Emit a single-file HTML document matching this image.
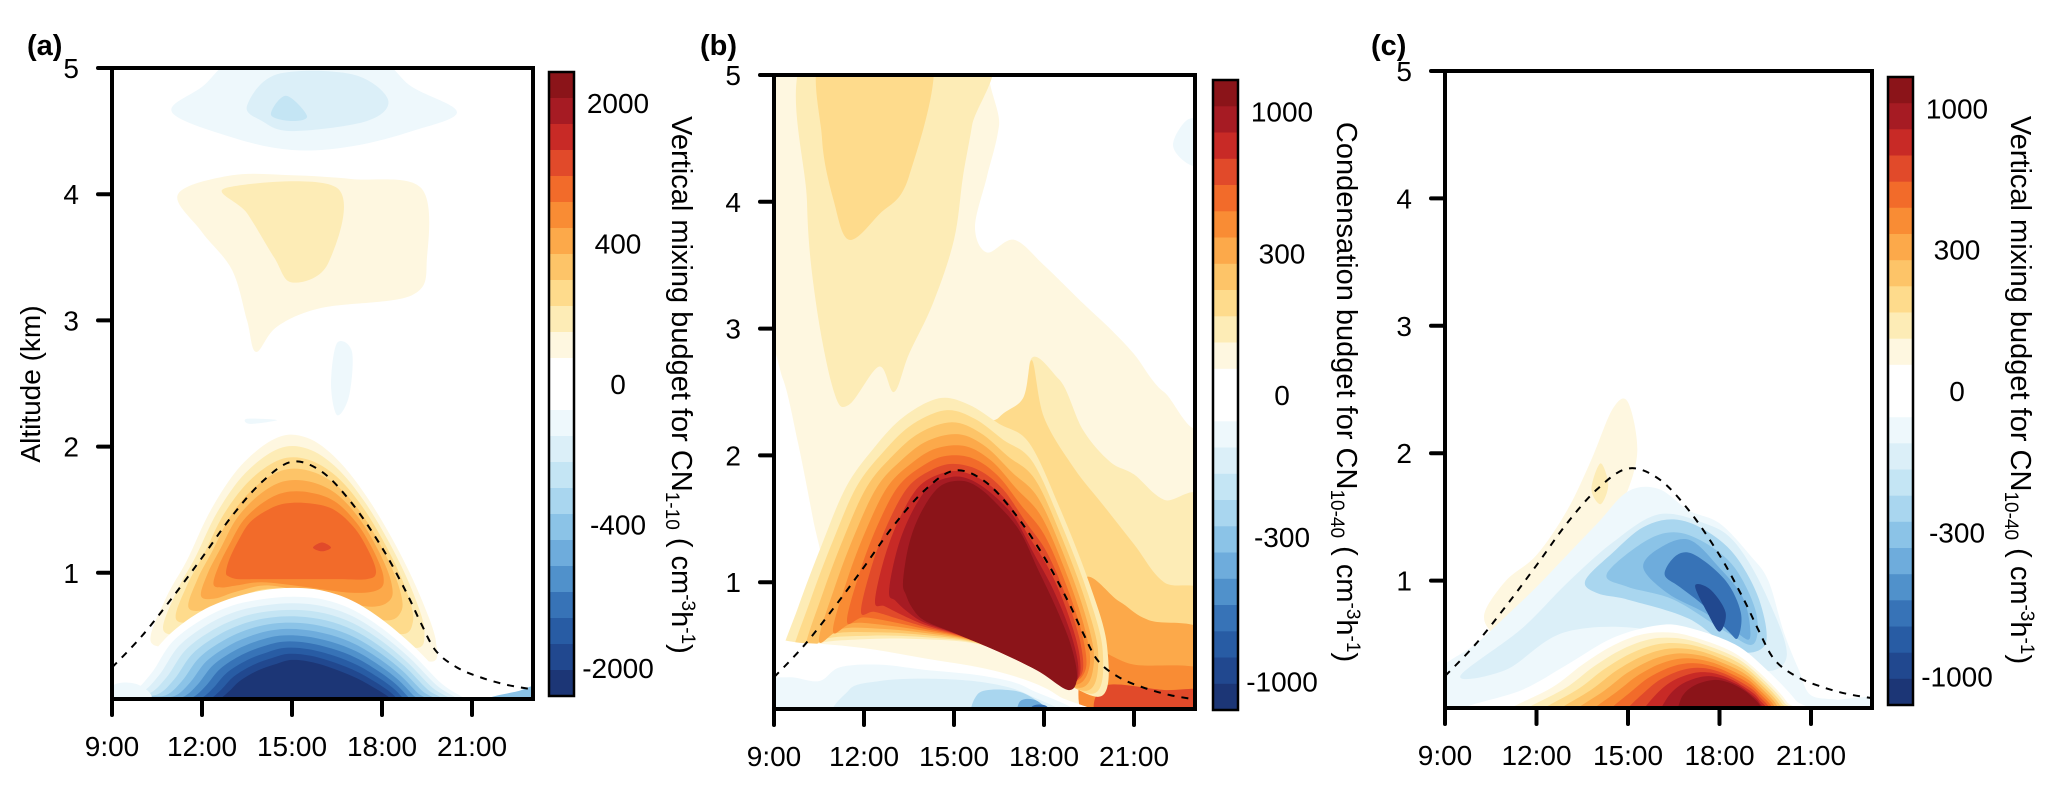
<!DOCTYPE html>
<html><head><meta charset="utf-8"><style>
html,body{margin:0;padding:0;background:#fff;}
svg{display:block;}
text{font-family:"Liberation Sans",Arial,sans-serif;fill:#000;}
</style></head><body>
<svg id="s" width="2067" height="787" viewBox="0 0 2067 787" xmlns="http://www.w3.org/2000/svg">
<defs>
<clipPath id="ca"><rect x="112" y="68" width="421" height="631"/></clipPath>
<clipPath id="cb"><rect x="774" y="75" width="421" height="634"/></clipPath>
<clipPath id="cc"><rect x="1445" y="71" width="427" height="637"/></clipPath>
</defs>
<g id="ga" clip-path="url(#ca)"></g>
<g id="gb" clip-path="url(#cb)"></g>
<g id="gc" clip-path="url(#cc)"></g>
<g id="axes" fill="none" stroke="#000" stroke-width="4"></g>
<g id="cbars"></g>
<text x="27" y="55" font-size="29" font-weight="bold">(a)</text>
<text x="700" y="55" font-size="29" font-weight="bold">(b)</text>
<text x="1371" y="55" font-size="29" font-weight="bold">(c)</text>
<text transform="translate(40,384) rotate(-90)" font-size="28" text-anchor="middle">Altitude (km)</text>
<g font-size="28" text-anchor="end" id="ylab"></g>
<g font-size="28" text-anchor="middle" id="xlab"></g>
<g font-size="28" text-anchor="middle" id="cblab"></g>
<text transform="translate(672,385) rotate(90)" font-size="29" text-anchor="middle">Vertical mixing budget for CN<tspan font-size="19" dy="6">1-10</tspan><tspan dy="-6">  ( cm</tspan><tspan font-size="19" dy="-10">-3</tspan><tspan dy="10">h</tspan><tspan font-size="19" dy="-10">-1</tspan><tspan dy="10">)</tspan></text>
<text transform="translate(1337,392) rotate(90)" font-size="29" text-anchor="middle">Condensation budget for CN<tspan font-size="19" dy="6">10-40</tspan><tspan dy="-6">  ( cm</tspan><tspan font-size="19" dy="-10">-3</tspan><tspan dy="10">h</tspan><tspan font-size="19" dy="-10">-1</tspan><tspan dy="10">)</tspan></text>
<text transform="translate(2011,390) rotate(90)" font-size="29" text-anchor="middle">Vertical mixing budget for CN<tspan font-size="19" dy="6">10-40</tspan><tspan dy="-6">  ( cm</tspan><tspan font-size="19" dy="-10">-3</tspan><tspan dy="10">h</tspan><tspan font-size="19" dy="-10">-1</tspan><tspan dy="10">)</tspan></text>
</svg>
<script>
var NS="http://www.w3.org/2000/svg";
var P={a:{L:112,B:699,T:68,R:533,hx:30,ky:126.2},b:{L:774,B:709,T:75,R:1195,hx:30,ky:126.8},c:{L:1445,B:708,T:71,R:1872,hx:30.5,ky:127.4}};
var W=['#ffffff','#fef7e0','#fdecb6','#fedb8c','#fdc468','#fca94a','#f98c34','#f26b2a','#e14a2a','#c82a26','#a61b23','#8b1419'];
var Bc=['#ffffff','#eef8fc','#dbeff8','#c4e5f4','#a9d6ef','#8bc3e7','#6eacdc','#5091cb','#3773b7','#285ca4','#21488f','#1c3676'];
function xy(p,pt){return [p.L+(pt[0]-9)*p.hx,p.B-pt[1]*p.ky];}
function path(p,pts,closed){
 var q=pts.map(function(t){return xy(p,t);});var n=q.length;var d="M"+q[0][0].toFixed(1)+","+q[0][1].toFixed(1);
 var last=closed?n:n-1;
 for(var i=0;i<last;i++){var p0=q[(i-1+n)%n],p1=q[i],p2=q[(i+1)%n],p3=q[(i+2)%n];
  if(!closed){if(i==0)p0=p1;if(i+2>=n)p3=p2;}
  var c1=[p1[0]+(p2[0]-p0[0])/6,p1[1]+(p2[1]-p0[1])/6],c2=[p2[0]-(p3[0]-p1[0])/6,p2[1]-(p3[1]-p1[1])/6];
  d+="C"+c1[0].toFixed(1)+","+c1[1].toFixed(1)+" "+c2[0].toFixed(1)+","+c2[1].toFixed(1)+" "+p2[0].toFixed(1)+","+p2[1].toFixed(1);}
 return d+(closed?"Z":"");}
function add(g,p,pts,fill){var e=document.createElementNS(NS,"path");e.setAttribute("d",path(p,pts,true));e.setAttribute("fill",fill);document.getElementById(g).appendChild(e);}
function lerp(A,B,t){return A.map(function(a,i){return [a[0]+(B[i][0]-a[0])*t,a[1]+(B[i][1]-a[1])*t];});}
function levels(g,p,A,B,cols){for(var i=0;i<cols.length;i++){add(g,p,lerp(A,B,cols.length==1?0:i/(cols.length-1)),cols[i]);}}
function rect(g,p,fill){var e=document.createElementNS(NS,"rect");e.setAttribute("x",p.L);e.setAttribute("y",p.T);e.setAttribute("width",p.R-p.L);e.setAttribute("height",p.B-p.T);e.setAttribute("fill",fill);document.getElementById(g).appendChild(e);}
var a=P.a;rect("ga",a,"#fff");
add("ga",a,[[11,4.65],[12,4.85],[13.5,5.1],[17.5,5.1],[19,4.85],[20.5,4.65],[19,4.5],[17,4.38],[15,4.35],[13,4.45]],Bc[1]);
add("ga",a,[[13.5,4.7],[14.5,4.95],[17,4.95],[18.2,4.75],[17.5,4.58],[15,4.5],[14,4.58]],Bc[2]);
add("ga",a,[[14.3,4.63],[14.8,4.78],[15.5,4.62],[15,4.58]],Bc[3]);
add("ga",a,[[11.2,4.0],[13,4.15],[15,4.15],[17,4.12],[19.3,4.05],[19.5,3.5],[19,3.2],[16,3.1],[14.5,2.95],[13.8,2.75],[13.5,3.0],[13,3.4],[12,3.7]],W[1]);
add("ga",a,[[12.8,4.05],[16.5,4.05],[16.2,3.45],[15,3.3],[14.4,3.5],[13.5,3.85]],W[2]);
add("ga",a,[[16.3,2.5],[16.5,2.82],[17.0,2.75],[16.9,2.4],[16.5,2.25]],Bc[1]);
add("ga",a,[[13.5,2.22],[14.5,2.21],[13.6,2.18]],Bc[1]);
var aO=[[10.3,0.45],[10.8,0.8],[11.5,1.1],[12.3,1.5],[13.3,1.85],[14.5,2.07],[15.5,2.07],[16.5,1.9],[17.5,1.6],[18.5,1.2],[19.3,0.8],[19.8,0.45],[19.5,0.3],[17,0.6],[15,0.8],[13,0.65],[11.5,0.45]];
var aI=[[12.8,1.0],[12.9,1.1],[13.2,1.25],[13.6,1.4],[14.2,1.5],[14.8,1.55],[15.6,1.55],[16.4,1.5],[17.1,1.35],[17.6,1.15],[17.8,1.0],[17.5,0.95],[16.5,0.95],[15,0.95],[13.8,0.95],[13.2,0.95],[12.9,0.97]];
levels("ga",a,aO,aI,[W[1],W[2],W[3],W[4],W[5],W[6],W[7]]);
add("ga",a,[[15.7,1.2],[16.0,1.24],[16.3,1.2],[16.0,1.17]],W[8]);
add("ga",a,[[8.5,0.1],[9,0.1],[10,0.28],[11,0.53],[12,0.7],[13,0.8],[14,0.86],[15,0.88],[16,0.86],[17,0.78],[18,0.63],[19,0.43],[20,0.2],[21,0.04],[21.5,-0.1],[8.5,-0.1]],"#fff");
var aBO=[[8.5,0.05],[9.6,0.05],[10.3,0.2],[11,0.45],[12,0.63],[13,0.74],[14,0.79],[15,0.81],[16,0.79],[17,0.71],[18,0.56],[19,0.36],[20,0.12],[20.8,0.0],[21.5,-0.1],[8.5,-0.1]];
var aBI=[[12.3,-0.05],[12.6,0.0],[12.9,0.06],[13.3,0.15],[13.9,0.23],[14.5,0.28],[15,0.31],[15.7,0.29],[16.5,0.23],[17.2,0.16],[17.8,0.08],[18.2,0.02],[18.4,-0.03],[18.5,-0.1],[12.3,-0.1],[12.3,-0.1]];
levels("ga",a,aBO,aBI,[Bc[1],Bc[2],Bc[3],Bc[4],Bc[5],Bc[6],Bc[7],Bc[8],Bc[9],Bc[10],Bc[11]]);
add("ga",a,[[21.5,0.0],[22.5,0.06],[23.2,0.1],[23.2,-0.1],[21.5,-0.1]],Bc[5]);
add("ga",a,[[9,0.1],[9.8,0.12],[10.3,0.0],[9,-0.1]],Bc[1]);
var b=P.b;rect("gb",b,W[1]);
add("gb",b,[[8.8,2.7],[9.3,2.6],[9.8,2.1],[10.3,1.5],[10.6,1.1],[10.2,0.7],[9.6,0.45],[8.8,0.3]],"#fff");
add("gb",b,[[16.7,5.2],[16.5,4.6],[16.1,4.2],[15.7,3.8],[16.1,3.6],[17,3.7],[18,3.5],[19.3,3.2],[20.2,3.0],[21,2.8],[22,2.5],[23.4,2.4],[23.4,5.2]],"#fff");
add("gb",b,[[22.3,4.45],[22.8,4.65],[23.4,4.6],[23.4,4.3],[22.8,4.3]],Bc[1]);
add("gb",b,[[10.2,5.2],[10.1,4],[10.4,3.2],[11,2.5],[11.5,2.4],[12.5,2.7],[13,2.5],[13.5,2.8],[14.3,3.2],[15,3.7],[15.3,4.2],[15.6,4.6],[16,5.2]],W[2]);
add("gb",b,[[10.7,5.2],[10.6,4.5],[11,4.0],[11.5,3.7],[12.5,3.9],[13.5,4.2],[14.2,5.2]],W[3]);
add("gb",b,[[17.5,2.6],[18.5,2.6],[19.3,2.2],[20.2,1.95],[21.0,1.85],[22,1.65],[23.4,1.6],[23.4,0.2],[19,0.4]],W[2]);
add("gb",b,[[15.5,2.0],[16.5,2.3],[17.3,2.45],[17.6,2.75],[18,2.3],[19,1.9],[20,1.6],[21,1.3],[22,1.0],[23.4,0.9],[23.4,0.2],[19,0.3]],W[3]);
add("gb",b,[[19.3,1.0],[20.5,0.85],[21.5,0.7],[23.4,0.6],[23.4,0.0],[19.5,0.0]],W[5]);
add("gb",b,[[19.5,0.45],[21,0.35],[23.4,0.3],[23.4,-0.1],[19.5,-0.1]],W[6]);
add("gb",b,[[20,0.18],[22,0.15],[23.4,0.14],[23.4,-0.1],[20,-0.1]],W[8]);
var bO=[[9.1,0.3],[9.8,0.8],[10.6,1.3],[11.4,1.75],[12.3,2.05],[13.3,2.3],[14.5,2.45],[15.5,2.4],[16.5,2.25],[17.5,2.1],[18.5,1.6],[19.5,1.0],[20.1,0.5],[19.9,0.1],[18,0.3],[16,0.5],[14,0.55],[12,0.55],[10.2,0.5]];
var bI=[[13.3,1.0],[13.5,1.3],[13.9,1.55],[14.5,1.75],[15.2,1.8],[15.8,1.75],[16.5,1.6],[17.2,1.4],[17.8,1.1],[18.4,0.8],[18.9,0.5],[19.1,0.25],[18.8,0.15],[17.8,0.3],[16.5,0.45],[15,0.6],[14,0.7],[13.6,0.8],[13.4,0.9]];
levels("gb",b,bO,bI,[W[2],W[3],W[4],W[5],W[6],W[7],W[8],W[9],W[10],W[11]]);
add("gb",b,[[8.5,0.5],[10,0.52],[12,0.48],[14,0.4],[16,0.32],[17.5,0.22],[18.5,0.1],[19.4,-0.1],[8.5,-0.1]],"#fff");
add("gb",b,[[8.5,0.2],[9.5,0.25],[10.5,0.22],[11.2,0.33],[12.5,0.35],[14,0.31],[16,0.26],[17.5,0.16],[18.7,-0.1],[8.5,-0.1]],Bc[1]);
add("gb",b,[[11.5,0.15],[12.5,0.22],[14,0.24],[16,0.21],[17.5,0.11],[18.5,-0.1],[11.5,-0.1]],Bc[2]);
add("gb",b,[[15.8,0.12],[16.8,0.15],[17.6,0.09],[18.4,-0.1],[15.8,-0.1]],Bc[4]);
add("gb",b,[[17.2,0.06],[17.8,0.06],[18.3,-0.1],[17.2,-0.1]],Bc[6]);
add("gb",b,[[17.6,0.02],[18.1,0.02],[18.2,-0.1],[17.5,-0.1]],Bc[8]);
var c=P.c;rect("gc",c,"#fff");
add("gc",c,[[10.3,0.75],[11,1.0],[12,1.2],[13,1.55],[13.8,1.95],[14.5,2.35],[15,2.4],[15.3,2.0],[14.8,1.6],[14,1.3],[13,1.1],[12,0.85],[11,0.55],[10.5,0.6]],W[1]);
add("gc",c,[[13.8,1.72],[14.1,1.92],[14.35,1.75],[14.1,1.6]],W[2]);
add("gc",c,[[8.8,0.1],[8.8,0.3],[10,0.5],[11,0.72],[12,0.95],[13,1.2],[14,1.45],[15,1.7],[16,1.72],[17,1.55],[18,1.45],[19,1.2],[19.6,1.0],[20.1,0.6],[20.6,0.3],[21,0.1],[22,0.05],[22,-0.1],[8.8,-0.1]],Bc[1]);
add("gc",c,[[9.5,0.25],[11.5,0.62],[13,0.98],[14.5,1.3],[16,1.52],[17.5,1.45],[18.5,1.3],[19.5,0.9],[20.2,0.4],[19,0.3],[16,0.6],[13,0.6],[11,0.3]],Bc[2]);
add("gc",c,[[13.6,1.0],[14.5,1.22],[15.5,1.42],[16.5,1.48],[17.5,1.4],[18.5,1.2],[19.3,0.85],[19.5,0.5],[18.5,0.45],[17,0.7],[15,0.85],[14,0.9]],Bc[4]);
add("gc",c,[[14.3,1.05],[15.5,1.3],[16.5,1.38],[17.5,1.3],[18.5,1.1],[19.2,0.75],[19.1,0.5],[18.2,0.6],[16.5,0.85],[15,0.95]],Bc[5]);
add("gc",c,[[15.5,1.1],[16,1.25],[17,1.32],[18,1.1],[18.8,0.85],[19,0.55],[18.5,0.6],[17.5,0.75],[16.3,0.9]],Bc[6]);
add("gc",c,[[16.2,1.05],[16.6,1.2],[17.2,1.2],[18.2,1.0],[18.7,0.75],[18.6,0.55],[18.3,0.6],[17.5,0.8],[16.7,0.95]],Bc[8]);
add("gc",c,[[17.2,0.96],[17.7,0.93],[18.2,0.75],[18.0,0.6],[17.6,0.75]],Bc[10]);
add("gc",c,[[9.6,0.0],[11.5,0.14],[13,0.34],[14.5,0.55],[16,0.65],[17,0.63],[18.5,0.5],[19.5,0.31],[20.5,0.06],[20.8,-0.1],[9.5,-0.1]],"#fff");
var cO=[[11,-0.02],[12.5,0.16],[13.5,0.34],[14.5,0.49],[15.5,0.58],[16.5,0.59],[17.5,0.53],[18.5,0.43],[19.3,0.28],[20.2,0.05],[20.3,-0.1],[10.8,-0.1]];
var cI=[[16.6,-0.02],[16.8,0.1],[17.2,0.18],[17.8,0.22],[18.3,0.2],[18.8,0.14],[19.1,0.08],[19.3,0.03],[19.35,0.0],[19.4,-0.02],[19.5,-0.1],[16.4,-0.1]];
levels("gc",c,cO,cI,[W[1],W[2],W[3],W[4],W[5],W[6],W[7],W[8],W[9],W[10],W[11]]);
add("gc",c,[[20.8,0.0],[21.5,0.05],[23.3,0.08],[23.3,-0.1],[20.8,-0.1]],Bc[1]);
var pbl=[[9,0.25],[10,0.5],[11,0.8],[12,1.12],[13,1.45],[14,1.72],[15,1.88],[16,1.8],[17,1.55],[18,1.2],[18.8,0.85],[19.3,0.6],[19.8,0.38],[20.5,0.25],[21.3,0.17],[22.2,0.11],[23.2,0.07]];
["a","b","c"].forEach(function(k){var e=document.createElementNS(NS,"path");e.setAttribute("d",path(P[k],pbl,false));e.setAttribute("fill","none");e.setAttribute("stroke","#000");e.setAttribute("stroke-width","2");e.setAttribute("stroke-dasharray","7,7");document.getElementById("g"+k).appendChild(e);});
var ax=document.getElementById("axes"),yl=document.getElementById("ylab"),xl=document.getElementById("xlab");
function ln(x1,y1,x2,y2){var e=document.createElementNS(NS,"line");e.setAttribute("x1",x1);e.setAttribute("y1",y1);e.setAttribute("x2",x2);e.setAttribute("y2",y2);e.setAttribute("stroke-linecap","round");ax.appendChild(e);}
function tx(g,x,y,s){var e=document.createElementNS(NS,"text");e.setAttribute("x",x);e.setAttribute("y",y);e.textContent=s;g.appendChild(e);}
["a","b","c"].forEach(function(k){var p=P[k];
 var r=document.createElementNS(NS,"rect");r.setAttribute("x",p.L);r.setAttribute("y",p.T);r.setAttribute("width",p.R-p.L);r.setAttribute("height",p.B-p.T);ax.appendChild(r);
 for(var h=1;h<=5;h++){var y=p.B-h*p.ky;if(h==5)y=p.T;ln(p.L-14,y,p.L,y);tx(yl,p.L-33,y+10,""+h);}
 var labs=["9:00","12:00","15:00","18:00","21:00"];
 for(var i=0;i<5;i++){var x=p.L+i*3*p.hx;ln(x,p.B,x,p.B+16);tx(xl,x,p.B+57,labs[i]);}
});
var cb=document.getElementById("cbars"),cl=document.getElementById("cblab");
var cols=[W[11],W[10],W[9],W[8],W[7],W[6],W[5],W[4],W[3],W[2],W[1],"#ffffff","#ffffff",Bc[1],Bc[2],Bc[3],Bc[4],Bc[5],Bc[6],Bc[7],Bc[8],Bc[9],Bc[10],Bc[11]];
function cbar(x,y0,y1,labs){var n=cols.length,h=(y1-y0)/n;
 for(var i=0;i<n;i++){var r=document.createElementNS(NS,"rect");r.setAttribute("x",x);r.setAttribute("y",(y0+i*h).toFixed(1));r.setAttribute("width",25);r.setAttribute("height",(h+0.6).toFixed(1));r.setAttribute("fill",cols[i]);cb.appendChild(r);}
 var f=document.createElementNS(NS,"rect");f.setAttribute("x",x);f.setAttribute("y",y0);f.setAttribute("width",25);f.setAttribute("height",y1-y0);f.setAttribute("fill","none");f.setAttribute("stroke","#000");f.setAttribute("stroke-width","2.5");cb.appendChild(f);
 var pos=[0.05,0.275,0.5,0.725,0.955];
 for(var j=0;j<5;j++){tx(cl,x+69,y0+(y1-y0)*pos[j]+10,labs[j]);}
}
cbar(549,72,696,["2000","400","0","-400","-2000"]);
cbar(1213,80,710,["1000","300","0","-300","-1000"]);
cbar(1888,77,705,["1000","300","0","-300","-1000"]);
</script>
</body></html>
